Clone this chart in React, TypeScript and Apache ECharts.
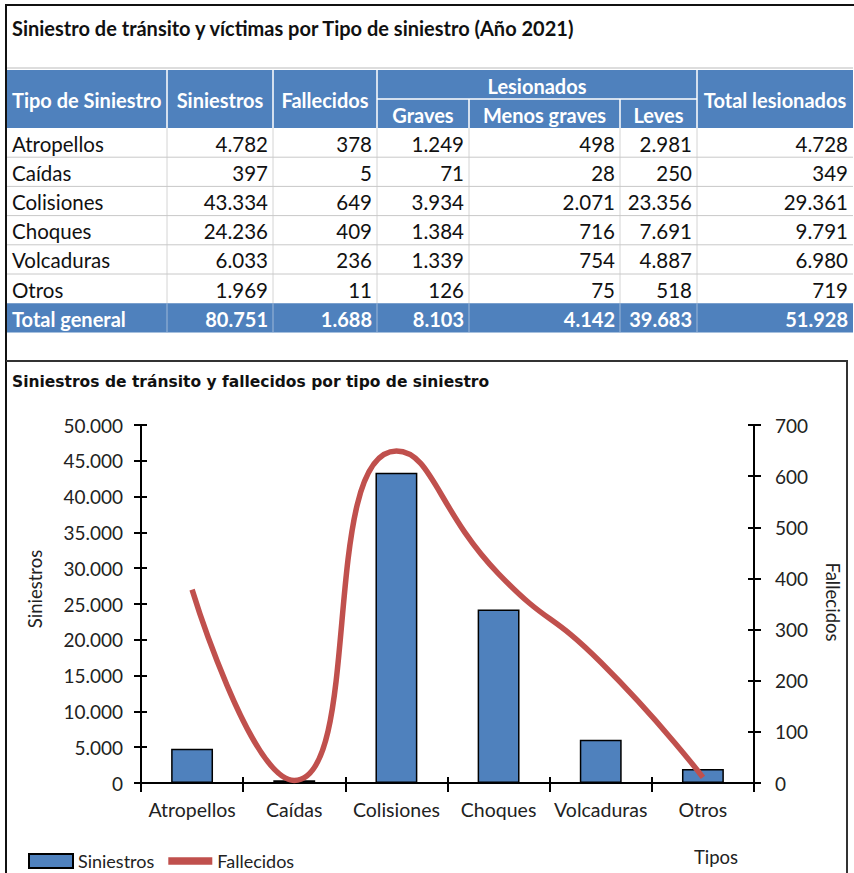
import React, { useEffect, useRef } from "react";
import * as echarts from "echarts";

const tipos = ["Atropellos", "Caídas", "Colisiones", "Choques", "Volcaduras", "Otros"];
const siniestros = [4782, 397, 43334, 24236, 6033, 1969];
const fallecidos = [378, 5, 649, 409, 236, 11];
const graves = [1249, 71, 3934, 1384, 1339, 126];
const menosGraves = [498, 28, 2071, 716, 754, 75];
const leves = [2981, 250, 23356, 7691, 4887, 518];
const totalLesionados = [4728, 349, 29361, 9791, 6980, 719];
const totalGeneralLabel = "Total general";
const totalGeneral = [80751, 1688, 8103, 4142, 39683, 51928];

const tableTitle = "Siniestro de tránsito y víctimas por Tipo de siniestro (Año 2021)";
const chartTitle = "Siniestros de tránsito y fallecidos por tipo de siniestro";
const headerMain = ["Tipo de Siniestro", "Siniestros", "Fallecidos", "Lesionados", "Total lesionados"];
const headerSub = ["Graves", "Menos graves", "Leves"];

const fmt = (n: number) => String(n).replace(/\B(?=(\d{3})+(?!\d))/g, ".");

const BLUE = "#4f81bd";
const RED = "#c0504d";
const FONT = "Lato";

function buildTable(): any[] {
  const els: any[] = [];
  const colX = [7, 167, 273, 377, 469, 620, 697, 853];
  const hTop = 70, hMid = 99, hBot = 128, rowH = 29.2;
  const cols = [siniestros, fallecidos, graves, menosGraves, leves, totalLesionados];
  const hb = `bold 20px ${FONT}`;
  const rf = `20.5px ${FONT}`;
  const txt = (text: string, x: number, y: number, align: string, font: string, fill: string) => ({
    type: "text",
    x, y,
    style: { text, font, fill, textAlign: align, textVerticalAlign: "middle" },
  });
  const ln = (x1: number, y1: number, x2: number, y2: number, stroke: string, w = 1) => ({
    type: "line",
    shape: { x1, y1, x2, y2 },
    style: { stroke, lineWidth: w },
  });
  // frame
  els.push(ln(5, 5, 854, 5, "#111", 2));
  els.push(ln(6, 5, 6, 873, "#111", 2));
  els.push(ln(6, 361, 848, 361, "#333", 2));
  els.push(ln(847, 361, 847, 873, "#333", 2));
  els.push(ln(7, 68, 853, 68, "#bbb", 1));
  // titles
  els.push(txt(tableTitle, 12, 28, "left", `bold 20px ${FONT}`, "#111"));
  els.push(txt(chartTitle, 12, 382, "left", `bold 15.5px "DejaVu Sans"`, "#111"));
  // header
  els.push({ type: "rect", shape: { x: colX[0], y: hTop, width: colX[7] - colX[0], height: hBot - hTop }, style: { fill: BLUE } });
  [1, 2, 3, 6].forEach((i) => els.push(ln(colX[i], hTop, colX[i], hBot, "#fff", 1.5)));
  [4, 5].forEach((i) => els.push(ln(colX[i], hMid, colX[i], hBot, "#fff", 1.5)));
  els.push(ln(colX[3], hMid, colX[6], hMid, "#fff", 1.5));
  const hc = (hTop + hBot) / 2 + 1;
  els.push(txt(headerMain[0], 12, hc, "left", hb, "#fff"));
  els.push(txt(headerMain[1], (colX[1] + colX[2]) / 2, hc, "center", hb, "#fff"));
  els.push(txt(headerMain[2], (colX[2] + colX[3]) / 2, hc, "center", hb, "#fff"));
  els.push(txt(headerMain[3], (colX[3] + colX[6]) / 2, (hTop + hMid) / 2 + 1, "center", hb, "#fff"));
  els.push(txt(headerMain[4], (colX[6] + colX[7]) / 2, hc, "center", hb, "#fff"));
  headerSub.forEach((h, k) =>
    els.push(txt(h, (colX[3 + k] + colX[4 + k]) / 2, (hMid + hBot) / 2 + 1, "center", hb, "#fff"))
  );
  // body
  const bodyBottom = hBot + rowH * tipos.length;
  [1, 2, 3, 4, 5, 6].forEach((i) => els.push(ln(colX[i], hBot, colX[i], bodyBottom, "#d4d4d4", 1)));
  tipos.forEach((t, r) => {
    const y0 = hBot + r * rowH;
    const cy = y0 + rowH / 2 + 1;
    if (r < tipos.length - 1) els.push(ln(colX[0], y0 + rowH, colX[7], y0 + rowH, "#c8c8c8", 1));
    els.push(txt(t, 12, cy, "left", rf, "#111"));
    cols.forEach((c, j) => els.push(txt(fmt(c[r]), colX[j + 2] - 5, cy, "right", rf, "#111")));
  });
  // total row
  els.push({ type: "rect", shape: { x: colX[0], y: bodyBottom, width: colX[7] - colX[0], height: rowH }, style: { fill: BLUE } });
  [1, 2, 3, 4, 5, 6].forEach((i) => els.push(ln(colX[i], bodyBottom, colX[i], bodyBottom + rowH, "#9fb8d8", 1)));
  const ty = bodyBottom + rowH / 2 + 1;
  els.push(txt(totalGeneralLabel, 12, ty, "left", hb, "#fff"));
  totalGeneral.forEach((v, j) => els.push(txt(fmt(v), colX[j + 2] - 5, ty, "right", hb, "#fff")));
  // axis names
  els.push({ type: "text", x: 35, y: 589, rotation: Math.PI / 2, style: { text: "Siniestros", font: `18.5px ${FONT}`, fill: "#222", textAlign: "center", textVerticalAlign: "middle" } });
  els.push({ type: "text", x: 833, y: 602, rotation: -Math.PI / 2, style: { text: "Fallecidos", font: `18.5px ${FONT}`, fill: "#222", textAlign: "center", textVerticalAlign: "middle" } });
  els.push(txt("Tipos", 716, 857, "center", `18.5px ${FONT}`, "#222"));
  return els;
}

export default function App() {
  const ref = useRef<HTMLDivElement>(null);
  useEffect(() => {
    if (!ref.current) return;
    const chart = echarts.init(ref.current, undefined, { renderer: "svg" });
    const axisLine = { show: true, lineStyle: { color: "#000", width: 2 } };
    const tickStyle = { color: "#000", width: 2 };
    const labelStyle = { fontFamily: FONT, fontSize: 19, color: "#222" };
    chart.setOption({
      animation: false,
      backgroundColor: "#fff",
      grid: { left: 141, right: 100, top: 425, bottom: 90, containLabel: false },
      legend: {
        left: 28,
        top: 852,
        padding: 0,
        itemWidth: 44,
        itemHeight: 14,
        itemGap: 14,
        textStyle: { fontFamily: FONT, fontSize: 18, color: "#222" },
        data: [
          { name: "Siniestros", icon: "rect" },
          { name: "Fallecidos", icon: "path://M0,0H40V7H0Z", itemStyle: { color: RED, borderWidth: 0 } },
        ],
      },
      xAxis: [
        {
          type: "category",
          data: tipos,
          axisLine,
          axisTick: { show: true, length: 9, lineStyle: tickStyle },
          axisLabel: { ...labelStyle, fontSize: 19.5, margin: 16, interval: 0 },
        },
        {
          type: "category",
          data: tipos,
          position: "bottom",
          axisLine: { show: false },
          axisTick: { show: true, inside: true, length: 6, lineStyle: tickStyle },
          axisLabel: { show: false },
        },
      ],
      yAxis: [
        {
          type: "value", min: 0, max: 50000, interval: 5000, position: "left",
          axisLine, axisTick: { show: true, length: 7, lineStyle: tickStyle },
          axisLabel: { ...labelStyle, margin: 18, formatter: (v: number) => fmt(v) },
          splitLine: { show: false },
        },
        {
          type: "value", min: 0, max: 700, interval: 100, position: "right",
          axisLine, axisTick: { show: true, length: 7, lineStyle: tickStyle },
          axisLabel: { ...labelStyle, margin: 21 },
          splitLine: { show: false },
        },
        {
          type: "value", min: 0, max: 50000, interval: 5000, position: "left",
          axisLine: { show: false }, axisTick: { show: true, inside: true, length: 6, lineStyle: tickStyle },
          axisLabel: { show: false }, splitLine: { show: false },
        },
        {
          type: "value", min: 0, max: 700, interval: 100, position: "right",
          axisLine: { show: false }, axisTick: { show: true, inside: true, length: 6, lineStyle: tickStyle },
          axisLabel: { show: false }, splitLine: { show: false },
        },
      ],
      series: [
        {
          name: "Siniestros",
          type: "bar",
          data: siniestros,
          barWidth: "41%",
          itemStyle: { color: BLUE, borderColor: "#000", borderWidth: 1.5 },
        },
        {
          name: "Fallecidos",
          type: "line",
          yAxisIndex: 1,
          data: fallecidos,
          smooth: 0.55,
          symbol: "none",
          color: RED,
          lineStyle: { color: RED, width: 5.5 },
          z: 5,
        },
      ],
      graphic: { elements: buildTable() },
    });
    return () => chart.dispose();
  }, []);
  return <div ref={ref} style={{ position: "absolute", left: 0, top: 0, width: 854, height: 873 }} />;
}
